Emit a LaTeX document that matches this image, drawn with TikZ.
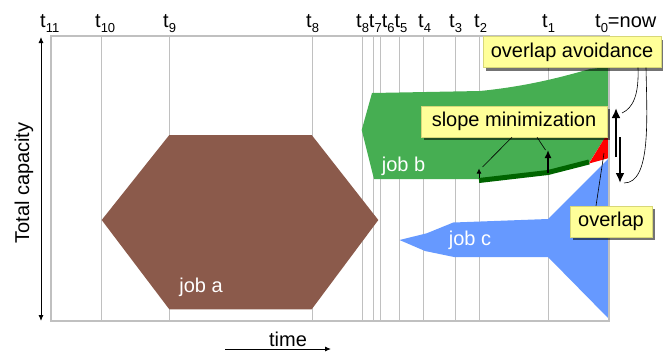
\documentclass[tikz,border=0pt]{standalone}
\usepackage{fontspec}
\setmainfont{Liberation Sans}
\usetikzlibrary{arrows.meta,shadows}

\definecolor{gridgray}{RGB}{192,192,192}
\definecolor{jobbrown}{RGB}{139,90,75}
\definecolor{jobgreen}{RGB}{70,174,82}
\definecolor{slopegreen}{RGB}{0,100,0}
\definecolor{jobblue}{RGB}{102,153,255}
\definecolor{noteyellow}{RGB}{255,255,153}
\definecolor{noteedge}{RGB}{215,215,120}

\newcommand\tlab[1]{t\raisebox{-5pt}{\fontsize{13}{13}\selectfont #1}}

\begin{document}
\begin{tikzpicture}[x=1pt,y=-1pt,font=\fontsize{20}{24}\selectfont]
    \tikzset{
        grid/.style={draw=gridgray,line width=0.8pt},
        frame/.style={draw=gridgray,line width=2pt},
        tick/.style={anchor=base west,inner sep=0pt},
        joblabel/.style={text=white,inner sep=0pt},
        callout/.style={
            fill=noteyellow,
            draw=noteedge,
            line width=0.4pt,
            inner sep=0pt,
            minimum height=31pt,
            drop shadow={shadow xshift=3pt,shadow yshift=-3pt,opacity=0.55,fill=black}
        },
        pointer/.style={draw,line width=0.6pt},
        axis/.style={line width=0.9pt,{Latex[length=6pt,width=5pt]}-{Latex[length=6pt,width=5pt]}},
        timearrow/.style={line width=0.9pt,-{Latex[length=6pt,width=5pt]}},
        smallvec/.style={line width=0.8pt,-{Latex[length=5pt,width=5pt]}},
        slopevec/.style={line width=1.8pt,-{Latex[length=8pt,width=7pt]}},
        shiftvec/.style={line width=2.4pt,-{Latex[length=10pt,width=9pt]}}
    }
    \useasboundingbox (0,0) rectangle (663,354);

    % time grid
    \foreach \x in {101,169,312,362,373,380,399,423,455,479,548}
        \draw[grid] (\x,36) -- (\x,321);

    \node[tick] (t11) at (40,27) {\tlab{11}};
    \node[tick] (t10) at (95,27) {\tlab{10}};
    \node[tick] (t9) at (163,27) {\tlab{9}};
    \node[tick] (t8) at (306,27) {\tlab{8}};
    \node[tick] (t8to5) at (356,27) {\tlab{8}\tlab{7}\tlab{6}\tlab{5}};
    \node[tick] (t4) at (418,27) {\tlab{4}};
    \node[tick] (t3) at (449,27) {\tlab{3}};
    \node[tick] (t2) at (474,27) {\tlab{2}};
    \node[tick] (t1) at (542,27) {\tlab{1}};
    \node[tick] (t0) at (595,27) {\tlab{0}=now};

    % jobs
    \fill[jobbrown] (101.7,220) -- (169.3,135) -- (311.7,135) -- (378.3,220)
        -- (311.7,309.3) -- (169.3,309.3) -- cycle;
    \fill[jobgreen] (361.7,130) -- (372,93) -- (480,91)
        .. controls (530,86) and (565,76) .. (590,69) -- (609,67)
        -- (609,131) -- (589,163) -- (548,172.5) -- (479,180.5)
        -- (479,179) -- (374,179) -- cycle;
    \fill[jobblue] (399.5,240) -- (426.7,233.3) -- (453.3,222.5) -- (548,219)
        -- (609,158) -- (609,319) -- (548,257) -- (454,257) -- (425,251) -- cycle;
    \fill[red] (589,163.5) -- (609.5,130) -- (609,158) -- cycle;
    \draw[slopegreen,line width=5pt] (479,180.5) -- (548,172.5) -- (589,162);

    \node[joblabel] (joba) at (201,287) {job a};
    \node[joblabel] (jobb) at (403.5,166.5) {job b};
    \node[joblabel] (jobc) at (470,240) {job c};

    \draw[frame] (51,36) rectangle (609,321);

    % axes
    \coordinate (capbot) at (41,321);
    \coordinate (captop) at (41,37);
    \draw[axis] (capbot) -- (captop);
    \node[rotate=90,inner sep=0pt] (cap) at (24,183) {Total capacity};
    \coordinate (timeleft) at (225,349);
    \coordinate (timeright) at (331,349);
    \draw[timearrow] (timeleft) -- (timeright);
    \node[inner sep=0pt] (time) at (288,339) {time};

    % slope vectors and shifts
    \coordinate (v2foot) at (479,178);
    \coordinate (v2tip) at (479,168.5);
    \draw[smallvec] (v2foot) -- (v2tip);
    \coordinate (v1foot) at (548,173);
    \coordinate (v1tip) at (548,150);
    \draw[slopevec] (v1foot) -- (v1tip);
    \coordinate (upfoot) at (616,157);
    \coordinate (uptip) at (616,108);
    \draw[shiftvec] (upfoot) -- (uptip);
    \coordinate (downfoot) at (620,137);
    \coordinate (downtip) at (620,183);
    \draw[shiftvec] (downfoot) -- (downtip);

    % callouts
    \node[callout,minimum width=178pt] (avoid) at (572,52) {overlap avoidance};
    \node[callout,minimum width=186pt] (slope) at (514,121.5) {slope minimization};
    \node[callout,minimum width=82pt] (overlap) at (611,221.5) {overlap};

    \coordinate (p2) at (482.5,167);
    \coordinate (p1) at (545.5,150);
    \coordinate (p0) at (604,153);
    \coordinate (pup) at (622,113);
    \coordinate (pdown) at (624,183);
    \draw[pointer] ([xshift=-2pt]slope.south) -- (p2);
    \draw[pointer] ([xshift=23pt]slope.south) -- (p1);
    \draw[pointer] ([xshift=-15pt]overlap.north) -- (p0);
    \draw[pointer] ([xshift=66pt]avoid.south) .. controls (639,95) and (633,108) .. (pup);
    \draw[pointer] ([xshift=74pt]avoid.south) .. controls (647,120) and (651,183) .. (pdown);
\end{tikzpicture}
\end{document}
